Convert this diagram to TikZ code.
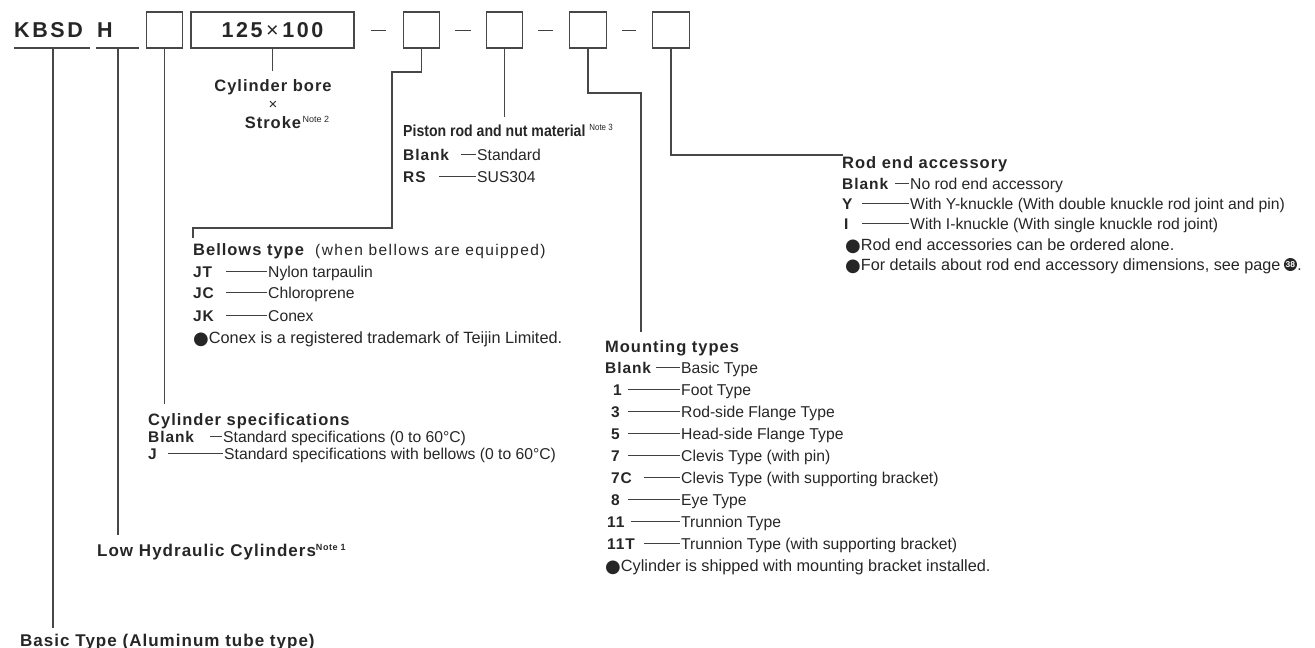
\documentclass[tikz,border=0pt]{standalone}
\usepackage{fontspec}
\setmainfont{Liberation Sans}
\newfontfamily\dejavu{DejaVu Sans}
\newfontfamily\bsp{Liberation Sans}[LetterSpace=6]
\newfontfamily\bbig{Liberation Sans}[LetterSpace=12]
\newfontfamily\condfont{Liberation Sans}[FakeStretch=0.88]
\newfontfamily\widefont{Liberation Sans}[LetterSpace=9]
\newcommand\fsz[1]{\fontsize{#1}{#1}\selectfont}
\newcommand\bul{{\dejavu\fsz{18}\raisebox{-1.5pt}{●}}}
\newcommand\notesup[1]{\raisebox{5.5pt}{\fsz{9}Note #1}}
\tikzset{
  ink/.style={text=black!85},
  box/.style={draw=black!72, line width=1.2pt, minimum width=36.5pt, minimum height=36pt, inner sep=0pt},
  conn/.style={draw=black!72, line width=1.2pt},
  dashl/.style={draw=black!75, line width=0.9pt},
  txt/.style={ink, anchor=base west, inner sep=0pt, font=\fsz{15.7}},
  lab/.style={ink, anchor=base west, inner sep=0pt, font=\bsp\bfseries\fsz{15.5}},
  head/.style={ink, anchor=base west, inner sep=0pt, font=\bsp\bfseries\fsz{16.5}},
  top/.style={ink, anchor=base west, inner sep=0pt, font=\bbig\bfseries\fsz{21.5}},
}
% row: name, label x, text x, baseline y, label, text, dash length
\newcommand\lrow[7]{%
  \node[lab] (#1l) at (#2,#4) {#5};
  \node[txt] (#1t) at (#3,#4) {#6};
  \draw[dashl] ([xshift=-1.5pt,yshift=5.4pt]#1t.base west) -- ++(-#7,0);
}
\begin{document}
\begin{tikzpicture}[x=1pt,y=-1pt]
\useasboundingbox (0,0) rectangle (1315,648);

% ---------- top row ----------
\node[top] (kbsd) at (14,37) {KBSD};
\node[top] (h) at (97,37) {H};
\draw[conn] (14,48) -- (90,48);
\draw[conn] (96,48) -- (139,48);
\node[box] (b1) at (164.5,30) {};
\node[box, minimum width=163pt, ink, font=\bbig\bfseries\fsz{21.5}] (b2) at (272.5,30) {125\,{\mdseries×}\,100};
\node[box] (b3) at (421.5,30) {};
\node[box] (b4) at (504.5,30) {};
\node[box] (b5) at (588,30) {};
\node[box] (b6) at (671,30) {};
\draw[dashl] ([xshift=16pt]b2.east) -- ([xshift=-17pt]b3.west);
\draw[dashl] ([xshift=15pt]b3.east) -- ([xshift=-15pt]b4.west);
\draw[dashl] ([xshift=15pt]b4.east) -- ([xshift=-16pt]b5.west);
\draw[dashl] ([xshift=15pt]b5.east) -- ([xshift=-16pt]b6.west);

% ---------- Basic type ----------
\node[head, font=\bsp\bfseries\fsz{17}] (basic) at (20,646) {Basic Type (Aluminum tube type)};
\coordinate (kbl) at (53,48);
\coordinate (kbe) at (53,628);
\draw[conn] (kbl) -- (kbe);

% ---------- Low hydraulic ----------
\node[head, font=\bsp\bfseries\fsz{17}] (low) at (97,556) {Low Hydraulic Cylinders\notesup{1}};
\coordinate (hl) at (118,48);
\coordinate (he) at (118,535);
\draw[conn] (hl) -- (he);

% ---------- Cylinder specifications ----------
\node[head] (cs) at (148,425) {Cylinder specifications};
\coordinate (b1e) at (164.5,404);
\draw[conn] (b1.south) -- (b1e);
\lrow{csa}{148}{223}{442}{Blank}{Standard specifications (0 to 60°C)}{12}
\lrow{csb}{148}{224}{459}{J}{Standard specifications with bellows (0 to 60°C)}{55}

% ---------- Cylinder bore x stroke ----------
\coordinate (b2e) at (272.5,71);
\draw[conn] (b2.south) -- (b2e);
\node[ink, inner sep=0pt, anchor=base, font=\bsp\bfseries\fsz{16.5}] (bore) at (273,91) {Cylinder bore};
\node[ink, inner sep=0pt, anchor=base, font=\fsz{15}] (times) at (273,109) {×};
\node[ink, inner sep=0pt, anchor=base, font=\bsp\bfseries\fsz{16.5}] (stroke) at (273,128) {Stroke};
\node[ink, inner sep=0pt, anchor=base west, font=\fsz{9}] (n2) at ([xshift=1pt,yshift=6pt]stroke.base east) {Note 2};

% ---------- Bellows ----------
\coordinate (c3a) at (392,72);
\coordinate (c3b) at (392,228);
\coordinate (c3c) at (193,228);
\coordinate (c3d) at (193,238);
\draw[conn] (b3.south) |- (c3a) -- (c3b) -- (c3c) -- (c3d);
\node[head] (bel) at (193,255) {Bellows type {\widefont\mdseries\fsz{15.5} (when bellows are equipped)}};
\lrow{jt}{193}{268}{277}{JT}{Nylon tarpaulin}{41}
\lrow{jc}{193}{268}{298}{JC}{Chloroprene}{41}
\lrow{jk}{193}{268}{321}{JK}{Conex}{41}
\node[txt, font=\fsz{16.3}] (conex) at (193,343) {\bul Conex is a registered trademark of Teijin Limited.};

% ---------- Piston rod ----------
\coordinate (b4e) at (504.5,117);
\draw[conn] (b4.south) -- (b4e);
\node[ink, anchor=base west, inner sep=0pt, font=\condfont\bfseries\fsz{16}] (pis) at (403,136) {Piston rod and nut material {\mdseries\notesup{3}}};
\lrow{pa}{403}{477}{160}{Blank}{Standard}{15}
\lrow{pb}{403}{477}{182}{RS}{SUS304}{37}

% ---------- Mounting types ----------
\coordinate (c5a) at (641,93);
\coordinate (c5b) at (641,332);
\draw[conn] (b5.south) |- (c5a) -- (c5b);
\node[head] (mt) at (605,352) {Mounting types};
\lrow{m0}{605}{681}{373}{Blank}{Basic Type}{24}
\lrow{m1}{613}{681}{395}{1}{Foot Type}{52}
\lrow{m3}{611}{681}{417}{3}{Rod-side Flange Type}{52}
\lrow{m5}{611}{681}{439}{5}{Head-side Flange Type}{52}
\lrow{m7}{611}{681}{461}{7}{Clevis Type (with pin)}{52}
\lrow{m7c}{611}{681}{483}{7C}{Clevis Type (with supporting bracket)}{36}
\lrow{m8}{611}{681}{505}{8}{Eye Type}{52}
\lrow{m11}{607}{681}{527}{11}{Trunnion Type}{49}
\lrow{m11t}{607}{681}{549}{11T}{Trunnion Type (with supporting bracket)}{36}
\node[txt, font=\fsz{16.3}] (ship) at (605,571) {\bul Cylinder is shipped with mounting bracket installed.};

% ---------- Rod end accessory ----------
\coordinate (c6a) at (843,155);
\draw[conn] (b6.south) |- (c6a);
\node[head] (re) at (842,168) {Rod end accessory};
\lrow{ra}{842}{910}{189}{Blank}{No rod end accessory}{14}
\lrow{ry}{842}{910}{209}{Y}{With Y-knuckle (With double knuckle rod joint and pin)}{47}
\lrow{ri}{844}{910}{229}{I}{With I-knuckle (With single knuckle rod joint)}{47}
\node[txt, font=\fsz{16.2}] (rb1) at (845,250) {\bul Rod end accessories can be ordered alone.};
\node[txt, font=\fsz{16.2}] (rb2) at (845,270) {\bul For details about rod end accessory dimensions, see page};
\node[circle, fill=black!85, inner sep=0pt, minimum size=13pt, text=white, font=\bfseries\fsz{8.5}, anchor=west] (pg) at ([xshift=3pt,yshift=5.5pt]rb2.base east) {38};
\node[txt, anchor=base west] (dot) at (pg.east |- rb2.base) {.};
\end{tikzpicture}
\end{document}
